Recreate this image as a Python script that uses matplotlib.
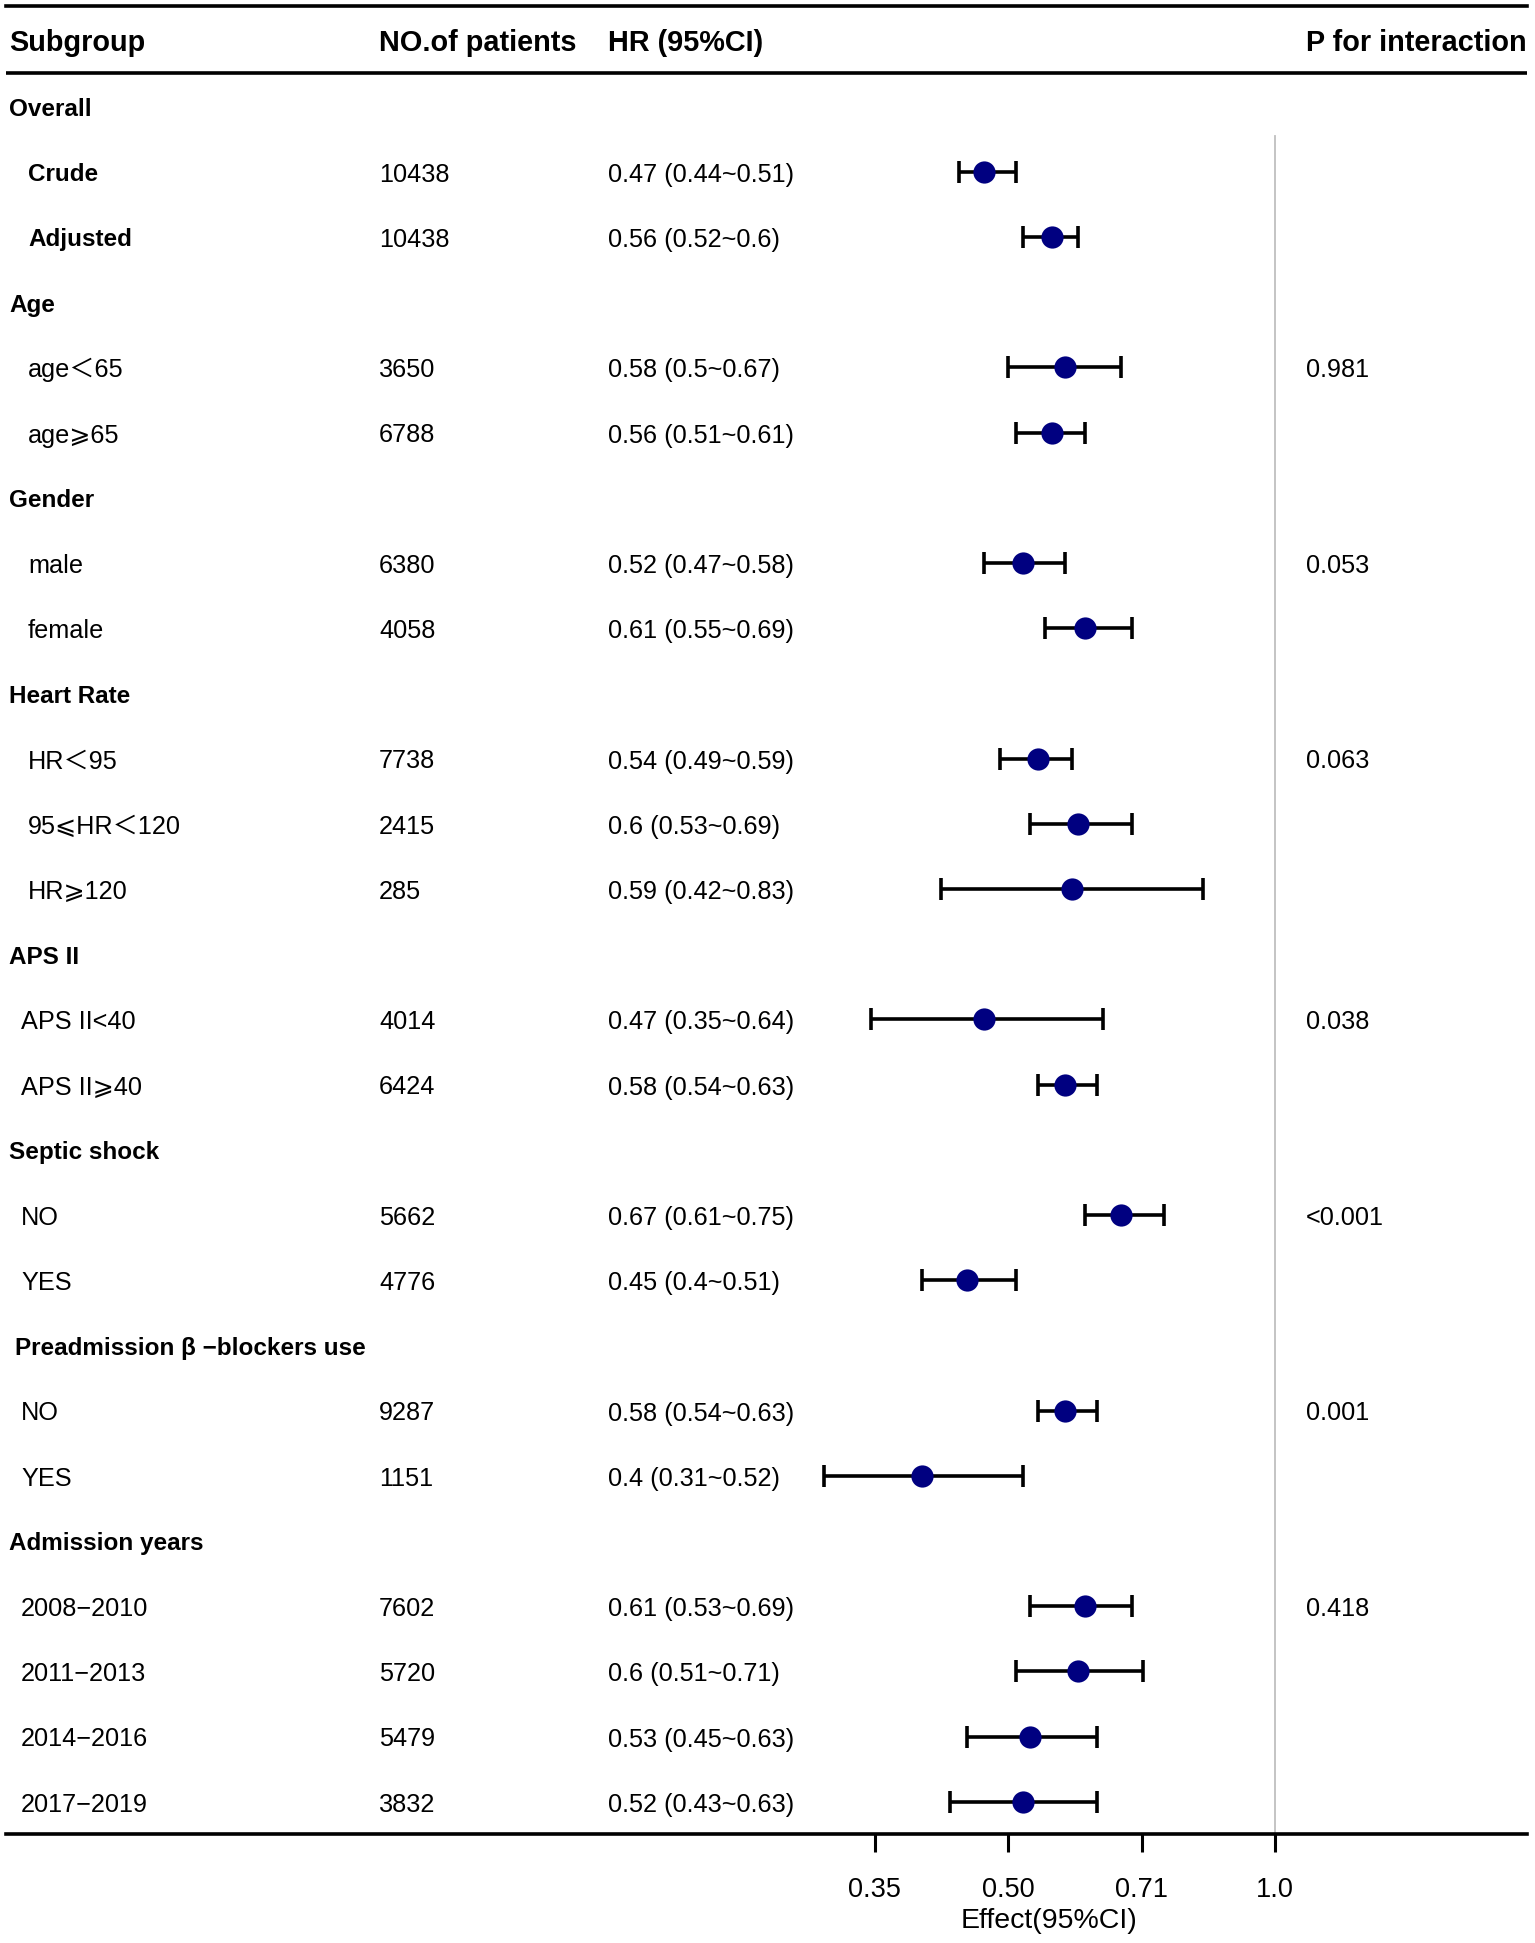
import numpy as np
import matplotlib
matplotlib.use("Agg")
import matplotlib.pyplot as plt
import matplotlib.transforms as mtransforms

plt.rcParams['font.family'] = ['Liberation Sans', 'DejaVu Sans', 'Noto Sans CJK SC']

# ---------------- data ----------------
labels = ["Overall", "Crude", "Adjusted",
          "Age", "age\uff1c65", "age\u2a7e65",
          "Gender", "male", "female",
          "Heart Rate", "HR\uff1c95", "95\u2a7dHR\uff1c120", "HR\u2a7e120",
          "APS II", "APS II<40", "APS II\u2a7e40",
          "Septic shock", "NO", "YES",
          "Preadmission \u03b2 \u2212blockers use", "NO", "YES",
          "Admission years", "2008\u22122010", "2011\u22122013", "2014\u22122016", "2017\u22122019"]
is_group = [True, False, False,
            True, False, False,
            True, False, False,
            True, False, False, False,
            True, False, False,
            True, False, False,
            True, False, False,
            True, False, False, False, False]
n_patients = ["", "10438", "10438",
              "", "3650", "6788",
              "", "6380", "4058",
              "", "7738", "2415", "285",
              "", "4014", "6424",
              "", "5662", "4776",
              "", "9287", "1151",
              "", "7602", "5720", "5479", "3832"]
nan = np.nan
hr = [nan, 0.47, 0.56, nan, 0.58, 0.56, nan, 0.52, 0.61, nan, 0.54, 0.6, 0.59,
      nan, 0.47, 0.58, nan, 0.67, 0.45, nan, 0.58, 0.4, nan, 0.61, 0.6, 0.53, 0.52]
lo = [nan, 0.44, 0.52, nan, 0.5, 0.51, nan, 0.47, 0.55, nan, 0.49, 0.53, 0.42,
      nan, 0.35, 0.54, nan, 0.61, 0.4, nan, 0.54, 0.31, nan, 0.53, 0.51, 0.45, 0.43]
hi = [nan, 0.51, 0.6, nan, 0.67, 0.61, nan, 0.58, 0.69, nan, 0.59, 0.69, 0.83,
      nan, 0.64, 0.63, nan, 0.75, 0.51, nan, 0.63, 0.52, nan, 0.69, 0.71, 0.63, 0.63]
p_interaction = ["", "", "", "", "0.981", "", "", "0.053", "", "", "0.063", "", "",
                 "", "0.038", "", "", "<0.001", "", "", "0.001", "", "", "0.418", "", "", ""]
bold_items = ["Crude", "Adjusted"]
headers = ["Subgroup", "NO.of patients", "HR (95%CI)", "P for interaction"]
tick_values = [2 ** -1.5, 0.5, 2 ** -0.5, 1.0]
tick_labels = ["0.35", "0.50", "0.71", "1.0"]
xlabel = "Effect(95%CI)"

# ---------------- layout (pixels) ----------------
W, H = 1535, 1943
fig = plt.figure(figsize=(W / 100, H / 100), dpi=100)
AX_L, AX_R, AX_T, AX_B = 6, 1527, 6, 1834
ONE_PX = 1275       # x pixel of HR = 1.0
OCT_PX = 267        # pixels per doubling
ROW0_PX = 106.5     # first row centre
ROW_PX = 65.2       # row spacing
TXT_DY = 3.0 / ROW_PX
FS = 18.2

ax = fig.add_axes([AX_L / W, 1 - AX_B / H, (AX_R - AX_L) / W, (AX_B - AX_T) / H])
ax.set_xscale('log', base=2)
ax.set_xlim(2 ** (-(ONE_PX - AX_L) / OCT_PX), 2 ** ((AX_R - ONE_PX) / OCT_PX))
ax.set_ylim((AX_B - ROW0_PX) / ROW_PX, -(ROW0_PX - AX_T) / ROW_PX)
ax.patch.set_alpha(0)
for s in ['left', 'right']:
    ax.spines[s].set_visible(False)
ax.spines['top'].set_linewidth(2.6)
ax.spines['bottom'].set_linewidth(2.6)
ax.yaxis.set_visible(False)
ax.set_xticks(tick_values)
ax.set_xticklabels(tick_labels)
ax.xaxis.set_minor_locator(matplotlib.ticker.NullLocator())
ax.tick_params(axis='x', direction='out', length=13, width=2.2, pad=18, labelsize=19.5)

def row_y(px):
    return (px - ROW0_PX) / ROW_PX

# second rule under header
ax.axhline(row_y(73), color='black', lw=2.6)

rows = np.arange(len(labels))
# reference line at 1.0
ax.plot([1.0, 1.0], [row_y(136), ax.get_ylim()[0]], color='#bfbfbf', lw=1.3, zorder=1)

hr_a, lo_a, hi_a = np.array(hr), np.array(lo), np.array(hi)
mask = ~np.isnan(hr_a)
ax.errorbar(hr_a[mask], rows[mask], xerr=[hr_a[mask] - lo_a[mask], hi_a[mask] - hr_a[mask]],
            fmt='none', ecolor='black', elinewidth=2.6, capsize=8, capthick=2.6, zorder=2)
ax.plot(hr_a[mask], rows[mask], 'o', color='#000080', markersize=16, zorder=3, markeredgewidth=0)

# text columns
tr = mtransforms.blended_transform_factory(fig.transFigure, ax.transData)
COL_SUB, COL_N, COL_HR, COL_P = 9, 379, 608, 1306
indent = {"Overall": 28, "Age": 28, "Gender": 28, "Heart Rate": 28,
          "APS II": 21, "Septic shock": 21, "Preadmission": 21, "Admission years": 21}
group_x = {"Preadmission": 15}

hy = row_y(43)
for txt, xp in zip(headers, [COL_SUB, COL_N, COL_HR, COL_P]):
    ax.text(xp / W, hy, txt, transform=tr, ha='left', va='center',
            fontsize=20.8, fontweight='bold')

current = None
for i, lab in enumerate(labels):
    y = i + TXT_DY
    if is_group[i]:
        current = lab.split()[0] if lab.startswith("Preadmission") else lab
        xp = group_x.get(current, COL_SUB)
        ax.text(xp / W, y, lab, transform=tr, ha='left', va='center',
                fontsize=17.5, fontweight='bold')
        continue
    xp = indent[current]
    ax.text(xp / W, y, lab, transform=tr, ha='left', va='center',
            fontsize=17.5 if lab in bold_items else FS,
            fontweight='bold' if lab in bold_items else 'normal')
    ax.text(COL_N / W, y, n_patients[i], transform=tr, ha='left', va='center', fontsize=FS)
    ax.text(COL_HR / W, y, f"{hr[i]:g} ({lo[i]:g}~{hi[i]:g})", transform=tr,
            ha='left', va='center', fontsize=FS)
    if p_interaction[i]:
        ax.text(COL_P / W, y, p_interaction[i], transform=tr, ha='left', va='center',
                fontsize=FS)

fig.text(1049 / W, 1 - 1921 / H, xlabel, ha='center', va='center', fontsize=20.5)

fig.savefig("out.png", dpi=100)
